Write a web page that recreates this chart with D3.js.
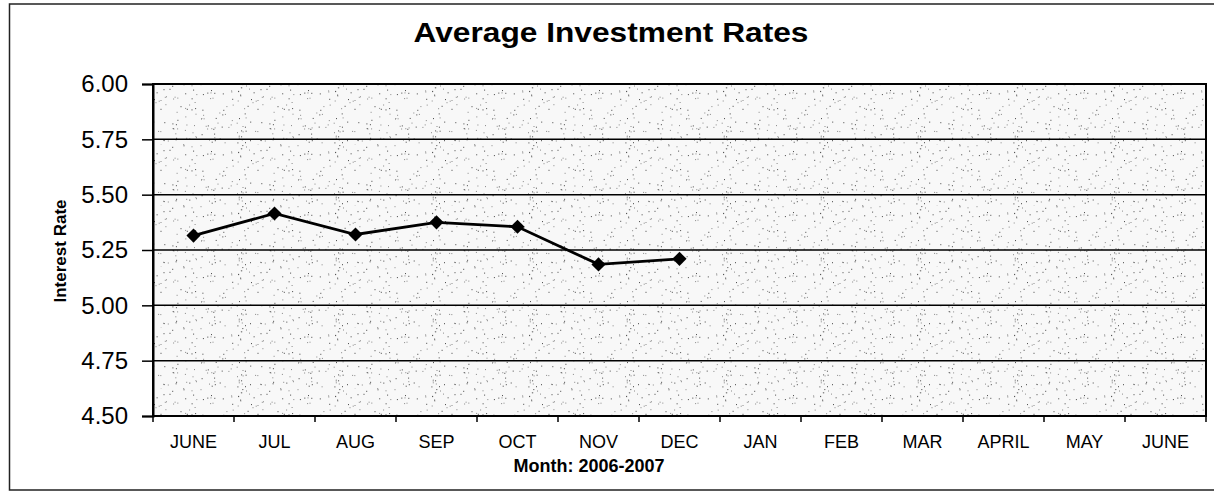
<!DOCTYPE html>
<html>
<head>
<meta charset="utf-8">
<script src="https://cdn.jsdelivr.net/npm/d3@7"></script>
<style>
  body { margin: 0; background: #fff; }
  svg { display: block; font-family: "Liberation Sans", Arial, sans-serif; }
</style>
</head>
<body>
<svg width="1214" height="492"></svg>
<script>
// chart data
const months = ["JUNE", "JUL", "AUG", "SEP", "OCT", "NOV", "DEC", "JAN", "FEB", "MAR", "APRIL", "MAY", "JUNE"];
const rates = [5.315, 5.415, 5.32, 5.375, 5.355, 5.185, 5.21];
const yTicks = [4.5, 4.75, 5.0, 5.25, 5.5, 5.75, 6.0];

const svg = d3.select("svg"),
  margin = { top: 84, right: 8, bottom: 76, left: 153 },
  width = 1214 - margin.left - margin.right,
  height = 492 - margin.top - margin.bottom;

// stipple texture for the plot background
const defs = svg.append("defs");
const pat = defs.append("pattern")
  .attr("id", "stipple")
  .attr("patternUnits", "userSpaceOnUse")
  .attr("width", 97).attr("height", 61);
pat.append("rect").attr("width", 97).attr("height", 61).attr("fill", "#f8f8f8");
let seed = 7;
function rnd() { seed = (seed * 16807) % 2147483647; return (seed - 1) / 2147483646; }
for (let i = 0; i < 130; i++) {
  pat.append("rect")
    .attr("x", (rnd() * 97).toFixed(1))
    .attr("y", (rnd() * 61).toFixed(1))
    .attr("width", 1).attr("height", 1)
    .attr("fill", rnd() < 0.5 ? "#444" : "#888");
}

// outer frame
svg.append("path")
  .attr("d", "M1214,4H9.5V490H1214")
  .attr("fill", "none")
  .attr("stroke", "#222")
  .attr("stroke-width", 1.5);

const g = svg.append("g").attr("transform", `translate(${margin.left},${margin.top})`);

const x = d3.scaleBand().domain(months.map((d, i) => i)).range([0, width]);
const y = d3.scaleLinear().domain([4.5, 6.0]).range([height, 0]);

g.append("rect")
  .attr("width", width).attr("height", height)
  .attr("fill", "url(#stipple)");

// gridlines
g.selectAll(".grid")
  .data(yTicks.slice(1, -1))
  .enter().append("line")
  .attr("x1", 0).attr("x2", width)
  .attr("y1", d => y(d)).attr("y2", d => y(d))
  .attr("stroke", "#000").attr("stroke-width", 1.5);

// plot border
g.append("rect")
  .attr("width", width).attr("height", height)
  .attr("fill", "none").attr("stroke", "#000").attr("stroke-width", 2);

// y axis
const yAxis = g.append("g")
  .call(d3.axisLeft(y).tickValues(yTicks).tickFormat(d3.format(".2f")).tickSize(11).tickPadding(14));
yAxis.select(".domain").attr("stroke-width", 2);
yAxis.selectAll(".tick line").attr("stroke-width", 1.5);
yAxis.selectAll("text").attr("font-size", 24).attr("fill", "#000").attr("font-family", "Liberation Sans, Arial");

// x axis: labels centred in bands, ticks on band edges
const xAxis = g.append("g")
  .attr("transform", `translate(0,${height})`)
  .call(d3.axisBottom(x).tickSize(0).tickPadding(19).tickFormat(i => months[i]));
xAxis.select(".domain").remove();
xAxis.selectAll("text").attr("font-size", 18).attr("fill", "#000").attr("font-family", "Liberation Sans, Arial");

g.selectAll(".xtick")
  .data(d3.range(months.length + 1))
  .enter().append("line")
  .attr("x1", i => i * x.step()).attr("x2", i => i * x.step())
  .attr("y1", height).attr("y2", height + 6)
  .attr("stroke", "#000").attr("stroke-width", 1.5);

// series
const line = d3.line()
  .x((d, i) => x(i) + x.bandwidth() / 2)
  .y(d => y(d));

g.append("path")
  .datum(rates)
  .attr("d", line)
  .attr("fill", "none")
  .attr("stroke", "#000")
  .attr("stroke-width", 2.8);

g.selectAll(".pt")
  .data(rates)
  .enter().append("path")
  .attr("d", d3.symbol().type(d3.symbolSquare).size(100))
  .attr("transform", (d, i) => `translate(${x(i) + x.bandwidth() / 2},${y(d)}) rotate(45)`)
  .attr("fill", "#000");

// titles
svg.append("text")
  .attr("x", 611).attr("y", 42)
  .attr("text-anchor", "middle")
  .attr("font-size", 27).attr("font-weight", "bold")
  .attr("textLength", 395).attr("lengthAdjust", "spacingAndGlyphs")
  .text("Average Investment Rates");

svg.append("text")
  .attr("x", 589).attr("y", 472)
  .attr("text-anchor", "middle")
  .attr("font-size", 18).attr("font-weight", "bold")
  .text("Month: 2006-2007");

svg.append("text")
  .attr("transform", "translate(66,251) rotate(-90)")
  .attr("text-anchor", "middle")
  .attr("font-size", 17).attr("font-weight", "bold")
  .text("Interest Rate");
</script>
</body>
</html>
